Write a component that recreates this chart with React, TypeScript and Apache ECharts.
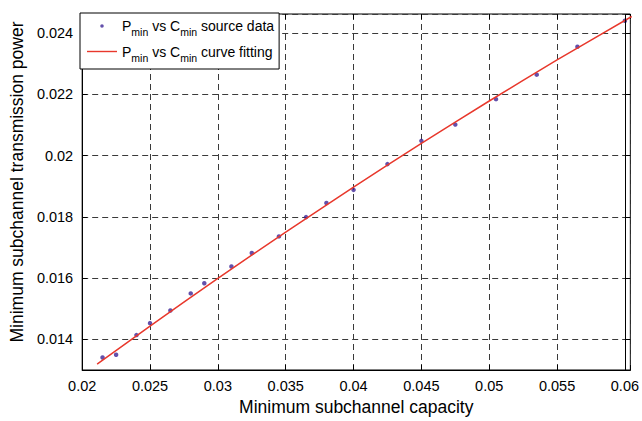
import { useEffect, useRef } from 'react';
import * as echarts from 'echarts';

// Source data
const capacity = [0.0215, 0.0225, 0.024, 0.025, 0.0265, 0.028, 0.029, 0.031, 0.0325, 0.0345, 0.0365, 0.038, 0.04, 0.0425, 0.045, 0.0475, 0.0505, 0.0535, 0.0565, 0.06];
const power = [0.01341, 0.0135, 0.01414, 0.01453, 0.01494, 0.0155, 0.01583, 0.01638, 0.01682, 0.01736, 0.01799, 0.01845, 0.01888, 0.01972, 0.02048, 0.02101, 0.02184, 0.02264, 0.02355, 0.0244];

// Fitted curve
const fitCapacity = [0.0211, 0.025, 0.03, 0.035, 0.04, 0.045, 0.05, 0.055, 0.0605];
const fitPower = [0.01319, 0.01443, 0.01599, 0.0175, 0.01897, 0.0204, 0.02178, 0.02312, 0.02454];

// Tick labels
const xTicks = [0.02, 0.025, 0.03, 0.035, 0.04, 0.045, 0.05, 0.055, 0.06];
const yTicks = [0.014, 0.016, 0.018, 0.02, 0.022, 0.024];

const SRC = 'Pmin vs Cmin source data';
const FIT = 'Pmin vs Cmin curve fitting';
const FONT = '"Liberation Sans", Arial, Helvetica, sans-serif';

const tickFormatter = (ticks: number[]) => (v: number) => {
  const hit = ticks.find((t) => Math.abs(t - v) < 1e-9);
  return hit === undefined ? '' : String(hit);
};

export default function App() {
  const ref = useRef<HTMLDivElement>(null);
  useEffect(() => {
    const chart = echarts.init(ref.current!, null, { renderer: 'svg' });
    const xMin = 0.02, xMax = 0.0604, yMin = 0.013, yMax = 0.02462;
    const labelStyle = { color: '#000', fontSize: 14.5, fontFamily: FONT };
    const nameStyle = { color: '#000', fontSize: 17.5, fontFamily: FONT };
    const split = { show: true, lineStyle: { color: '#3a3a3a', type: [6, 4], width: 1 } };
    const tick = { show: true, inside: true, length: 5, lineStyle: { color: '#000', width: 1 } };
    chart.setOption({
      animation: false,
      backgroundColor: '#fff',
      grid: { left: 80, right: 10, top: 14, bottom: 48, show: true, borderColor: '#000', borderWidth: 1, backgroundColor: '#fff' },
      xAxis: [
        {
          type: 'value', position: 'bottom', min: xMin, max: xMax, minInterval: 0.005, maxInterval: 0.005,
          axisLine: { show: true, onZero: false, lineStyle: { color: '#000', width: 1 } },
          axisTick: tick,
          axisLabel: { ...labelStyle, margin: 8, formatter: tickFormatter(xTicks) },
          splitLine: split,
          name: 'Minimum subchannel capacity', nameLocation: 'middle', nameGap: 28, nameTextStyle: nameStyle,
        },
        {
          type: 'value', position: 'top', min: xMin, max: xMax, minInterval: 0.005, maxInterval: 0.005,
          axisLine: { show: false }, axisTick: tick, axisLabel: { show: false }, splitLine: { show: false },
        },
      ],
      yAxis: [
        {
          type: 'value', position: 'left', min: yMin, max: yMax, minInterval: 0.002, maxInterval: 0.002,
          axisLine: { show: true, onZero: false, lineStyle: { color: '#000', width: 1 } },
          axisTick: tick,
          axisLabel: { ...labelStyle, margin: 9, formatter: tickFormatter(yTicks) },
          splitLine: split,
          name: 'Minimum subchannel transmission power', nameLocation: 'middle', nameGap: 54,
          nameTextStyle: { ...nameStyle, padding: [0, 0, 0, 20] },
        },
        {
          type: 'value', position: 'right', min: yMin, max: yMax, minInterval: 0.002, maxInterval: 0.002,
          axisLine: { show: false }, axisTick: tick, axisLabel: { show: false }, splitLine: { show: false },
        },
      ],
      legend: {
        left: 80, top: 13, orient: 'vertical',
        backgroundColor: '#fff', borderColor: '#000', borderWidth: 1, borderRadius: 0,
        padding: [6, 5, 6, 7], itemWidth: 30, itemHeight: 14, itemGap: 7,
        data: [
          { name: SRC, icon: 'path://M0,0M14,14M5.2,7a1.8,1.8 0 1,0 3.6,0a1.8,1.8 0 1,0 -3.6,0' },
          { name: FIT, icon: 'path://M0,0L30,0L30,1.4L0,1.4Z' },
        ],
        formatter: (name: string) =>
          name === SRC ? 'P{s|min} vs C{s|min} source data' : 'P{s|min} vs C{s|min} curve fitting',
        textStyle: {
          color: '#000', fontSize: 14, fontFamily: FONT,
          rich: { s: { fontSize: 10.5, fontFamily: FONT, color: '#000', padding: [12, 0, 0, 0] } },
        },
        z: 10,
      },
      series: [
        {
          name: SRC, type: 'scatter', xAxisIndex: 0, yAxisIndex: 0,
          data: capacity.map((c, i) => [c, power[i]]),
          symbol: 'circle', symbolSize: 4.5,
          itemStyle: { color: '#3c2496' }, z: 3,
        },
        {
          name: FIT, type: 'line', xAxisIndex: 0, yAxisIndex: 0,
          data: fitCapacity.map((c, i) => [c, fitPower[i]]),
          smooth: 0.3, symbol: 'none', clip: true,
          lineStyle: { color: '#e8382c', width: 1.5 }, itemStyle: { color: '#e8382c' }, z: 4,
          markLine: {
            silent: true, symbol: 'none', label: { show: false },
            lineStyle: { color: '#000', type: 'solid', width: 1 },
            data: [{ xAxis: xTicks[xTicks.length - 1] }],
          },
        },
      ],
    });
    return () => chart.dispose();
  }, []);
  return (
    <div
      ref={ref}
      style={{ position: 'fixed', left: 0, top: 0, width: 642, height: 421, background: '#fff' }}
    />
  );
}
